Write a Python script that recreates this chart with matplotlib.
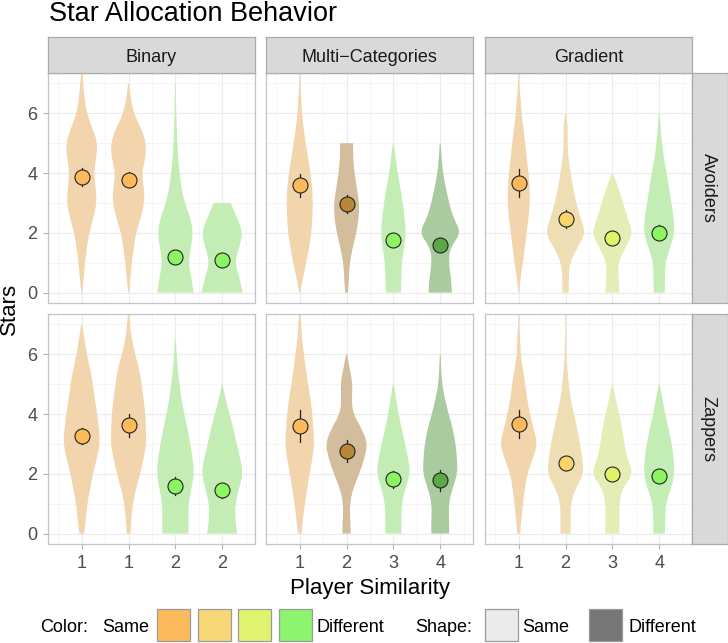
import numpy as np
import matplotlib
matplotlib.use("Agg")
import matplotlib.pyplot as plt
from matplotlib.path import Path
from matplotlib.patches import PathPatch, Rectangle

plt.rcParams['font.family'] = ['Liberation Sans', 'DejaVu Sans']

# ---- data ----
conditions = ["Binary", "Multi\u2212Categories", "Gradient"]
player_types = ["Avoiders", "Zappers"]
tick_labels = [["1", "1", "2", "2"], ["1", "2", "3", "4"], ["1", "2", "3", "4"]]
color_level = [[0, 0, 3, 3], [0, 0, 3, 3], [0, 1, 2, 3]]
shape_diff = [[0, 0, 0, 0], [0, 1, 0, 1], [0, 0, 0, 0]]

avoiders_mean = [[3.87, 3.78, 1.18, 1.10], [3.59, 2.97, 1.77, 1.60], [3.66, 2.45, 1.81, 2.00]]
avoiders_err = [[0.30, 0.25, 0.20, 0.20], [0.39, 0.30, 0.20, 0.20], [0.46, 0.30, 0.15, 0.25]]
zappers_mean = [[3.26, 3.62, 1.60, 1.45], [3.59, 2.76, 1.81, 1.79], [3.68, 2.35, 2.01, 1.93]]
zappers_err = [[0.26, 0.39, 0.30, 0.25], [0.53, 0.37, 0.30, 0.35], [0.47, 0.22, 0.20, 0.20]]

# violin half-widths (x units) at star levels 0, 0.5, 1, ...
avoiders_violins = [
    [[0.01, 0.04, 0.07, 0.11, 0.16, 0.25, 0.32, 0.30, 0.26, 0.31, 0.34, 0.23, 0.11, 0.06, 0.03, 0.01],
     [0.01, 0.04, 0.07, 0.11, 0.16, 0.26, 0.34, 0.33, 0.28, 0.36, 0.38, 0.27, 0.11, 0.05, 0.01],
     [0.39, 0.34, 0.28, 0.33, 0.38, 0.32, 0.20, 0.13, 0.09, 0.06, 0.04, 0.03, 0.02, 0.01, 0.01],
     [0.44, 0.37, 0.27, 0.36, 0.44, 0.32, 0.18]],
    [[0.01, 0.07, 0.14, 0.20, 0.25, 0.27, 0.28, 0.27, 0.23, 0.18, 0.13, 0.08, 0.05, 0.03, 0.01, 0.01],
     [0.03, 0.05, 0.07, 0.13, 0.21, 0.26, 0.27, 0.22, 0.17, 0.14, 0.14],
     [0.16, 0.17, 0.18, 0.23, 0.27, 0.24, 0.20, 0.15, 0.09, 0.05, 0.01],
     [0.25, 0.23, 0.18, 0.21, 0.45, 0.28, 0.19, 0.12, 0.06, 0.03, 0.01]],
    [[0.01, 0.04, 0.09, 0.13, 0.17, 0.21, 0.24, 0.23, 0.21, 0.17, 0.14, 0.10, 0.06, 0.04, 0.01, 0.01],
     [0.07, 0.07, 0.09, 0.25, 0.43, 0.32, 0.23, 0.16, 0.11, 0.06, 0.04, 0.05, 0.01],
     [0.15, 0.13, 0.12, 0.28, 0.44, 0.32, 0.23, 0.13, 0.01],
     [0.12, 0.12, 0.13, 0.23, 0.33, 0.31, 0.26, 0.21, 0.16, 0.10, 0.06, 0.03, 0.01]],
]
zappers_violins = [
    [[0.05, 0.09, 0.12, 0.18, 0.24, 0.32, 0.39, 0.37, 0.33, 0.28, 0.24, 0.18, 0.11, 0.06, 0.01],
     [0.04, 0.06, 0.09, 0.16, 0.25, 0.32, 0.38, 0.37, 0.36, 0.32, 0.28, 0.23, 0.14, 0.07, 0.03, 0.01],
     [0.28, 0.28, 0.28, 0.34, 0.40, 0.37, 0.32, 0.26, 0.19, 0.13, 0.09, 0.05, 0.03, 0.01],
     [0.32, 0.28, 0.28, 0.36, 0.44, 0.39, 0.31, 0.24, 0.16, 0.07, 0.01]],
    [[0.04, 0.07, 0.11, 0.16, 0.21, 0.27, 0.31, 0.29, 0.27, 0.23, 0.18, 0.13, 0.09, 0.05, 0.03, 0.01],
     [0.09, 0.08, 0.07, 0.14, 0.27, 0.38, 0.45, 0.33, 0.14, 0.11, 0.13, 0.07, 0.01],
     [0.17, 0.17, 0.18, 0.25, 0.36, 0.32, 0.25, 0.18, 0.11, 0.06, 0.01],
     [0.19, 0.19, 0.18, 0.26, 0.37, 0.36, 0.33, 0.27, 0.18, 0.10, 0.04, 0.02, 0.01]],
    [[0.03, 0.06, 0.09, 0.13, 0.18, 0.30, 0.40, 0.32, 0.24, 0.18, 0.14, 0.09, 0.04, 0.03, 0.01, 0.01],
     [0.11, 0.11, 0.11, 0.21, 0.39, 0.36, 0.31, 0.25, 0.18, 0.11, 0.07, 0.04, 0.02, 0.01, 0.01, 0.005],
     [0.15, 0.15, 0.15, 0.21, 0.45, 0.32, 0.26, 0.21, 0.15, 0.07, 0.01],
     [0.12, 0.13, 0.14, 0.25, 0.33, 0.31, 0.27, 0.20, 0.13, 0.07, 0.01]],
]
level_step = 0.5

# ---- styles ----
point_colors = ["#FDB95A", "#F9D56C", "#DFF268", "#8DF462"]
point_colors_dark = ["#B88838", "#B09A4A", "#A0AE48", "#5BA844"]
violin_colors = ["#F2D4AD", "#EFDEB3", "#E4EDB5", "#C4EDB6"]
violin_colors_dark = ["#D3BD9D", "#D0C8A0", "#CDD4A8", "#AACAA0"]
legend_colors = ["#FDBA5C", "#F8D776", "#DFF370", "#8DF46F"]

W, H = 728, 643
col_left = [48, 266, 485]
row_top = [73, 314]
pw, ph = 207, 230


def fx(px):
    return px / W


def fy(py):
    return 1 - py / H


def violin_path(xc, half_widths, step):
    w = np.asarray(half_widths, dtype=float)
    y = np.arange(len(w)) * step
    right = np.column_stack([xc + w, y])
    left = np.column_stack([xc - w, y])
    n = len(w)
    verts = [right[0], (right[0] + right[1]) / 2]
    codes = [Path.MOVETO, Path.LINETO]
    for i in range(1, n - 1):
        verts += [right[i], (right[i] + right[i + 1]) / 2]
        codes += [Path.CURVE3, Path.CURVE3]
    verts += [right[-1], left[-1], (left[-1] + left[-2]) / 2]
    codes += [Path.LINETO] * 3
    for i in range(n - 2, 0, -1):
        verts += [left[i], (left[i] + left[i - 1]) / 2]
        codes += [Path.CURVE3, Path.CURVE3]
    verts += [left[0], left[0]]
    codes += [Path.LINETO, Path.CLOSEPOLY]
    return Path(verts, codes)


fig = plt.figure(figsize=(W / 100, H / 100), dpi=100)
fig.patch.set_facecolor("white")

rows = [(avoiders_mean, avoiders_err, avoiders_violins),
        (zappers_mean, zappers_err, zappers_violins)]

for r, (means, errs, violins) in enumerate(rows):
    for c in range(3):
        ax = fig.add_axes([fx(col_left[c]), fy(row_top[r] + ph), fx(pw), ph / H])
        ax.set_xlim(0.28, 4.7)
        ax.set_ylim(-0.35, 7.35)
        ax.set_xticks([1, 2, 3, 4])
        ax.set_xticks([0.5, 1.5, 2.5, 3.5, 4.5], minor=True)
        ax.set_yticks([0, 2, 4, 6])
        ax.set_yticks([1, 3, 5, 7], minor=True)
        ax.grid(which="major", color="#EBEBEB", lw=0.8)
        ax.grid(which="minor", color="#F4F4F4", lw=0.6)
        ax.set_axisbelow(True)
        for s in ax.spines.values():
            s.set_color("#C4C4C4")
            s.set_linewidth(0.9)
        ax.tick_params(which="major", length=3.6, width=0.8, color="#B3B3B3",
                       labelsize=13, labelcolor="#4D4D4D", pad=4)
        ax.tick_params(which="minor", length=0)
        ax.set_xticklabels(tick_labels[c])
        if r == 0:
            ax.tick_params(axis="x", which="major", length=0, labelbottom=False)
        if c > 0:
            ax.tick_params(axis="y", which="major", length=0, labelleft=False)

        for k in range(4):
            lvl = color_level[c][k]
            dark = shape_diff[c][k]
            vcol = violin_colors_dark[lvl] if dark else violin_colors[lvl]
            pcol = point_colors_dark[lvl] if dark else point_colors[lvl]
            xc = k + 1
            ax.add_patch(PathPatch(violin_path(xc, violins[c][k], level_step),
                                   facecolor=vcol, edgecolor="none", zorder=2))
            m, e = means[c][k], errs[c][k]
            ax.plot([xc, xc], [m - e, m + e], color="#222222", lw=0.9, zorder=3)
            ax.plot(xc, m, "o", ms=10.8, mfc=pcol, mec="#222222", mew=0.8, zorder=4)

        # top strips
        if r == 0:
            sax = fig.add_axes([fx(col_left[c]), fy(73), fx(pw), 36 / H])
            sax.set_facecolor("#D9D9D9")
            sax.set_xticks([])
            sax.set_yticks([])
            for s in sax.spines.values():
                s.set_color("#ABABAB")
                s.set_linewidth(0.9)
            fig.text(fx(col_left[c] + pw / 2), fy(62.5), conditions[c], ha="center",
                     va="baseline", fontsize=13, color="#1A1A1A")

    # right strips
    sax = fig.add_axes([fx(692), fy(row_top[r] + ph), fx(36), ph / H])
    sax.set_facecolor("#D9D9D9")
    sax.set_xticks([])
    sax.set_yticks([])
    for s in sax.spines.values():
        s.set_color("#ABABAB")
        s.set_linewidth(0.9)
    fig.text(fx(703.5), fy(row_top[r] + ph / 2), player_types[r], rotation=-90,
             rotation_mode="anchor", ha="center", va="baseline", fontsize=13, color="#1A1A1A")

# titles
fig.text(fx(49), fy(21), "Star Allocation Behavior", ha="left", va="baseline",
         fontsize=19.5, color="black")
fig.text(fx(370), fy(594), "Player Similarity", ha="center", va="baseline",
         fontsize=16, color="black")
fig.text(fx(14.5), fy(308.5), "Stars", rotation=90, rotation_mode="anchor",
         ha="center", va="baseline", fontsize=16, color="black")

# legend
base = fy(632.5)
fig.text(fx(40), base, "Color:", ha="left", va="baseline", fontsize=13)
fig.text(fx(102), base, "Same", ha="left", va="baseline", fontsize=13)
for i, x0 in enumerate([157, 198, 238, 279]):
    fig.patches.append(Rectangle((fx(x0), fy(641)), fx(33), 32 / H, transform=fig.transFigure,
                                 facecolor=legend_colors[i], edgecolor="#9A9A9A", lw=0.9))
fig.text(fx(317), base, "Different", ha="left", va="baseline", fontsize=13)
fig.text(fx(415), base, "Shape:", ha="left", va="baseline", fontsize=13)
fig.patches.append(Rectangle((fx(485), fy(641)), fx(33), 32 / H, transform=fig.transFigure,
                             facecolor="#EBEBEB", edgecolor="#9A9A9A", lw=0.9))
fig.text(fx(522), base, "Same", ha="left", va="baseline", fontsize=13)
fig.patches.append(Rectangle((fx(589), fy(641)), fx(33), 32 / H, transform=fig.transFigure,
                             facecolor="#777777", edgecolor="#9A9A9A", lw=0.9))
fig.text(fx(628), base, "Different", ha="left", va="baseline", fontsize=13)

fig.savefig("out.png", dpi=100)
